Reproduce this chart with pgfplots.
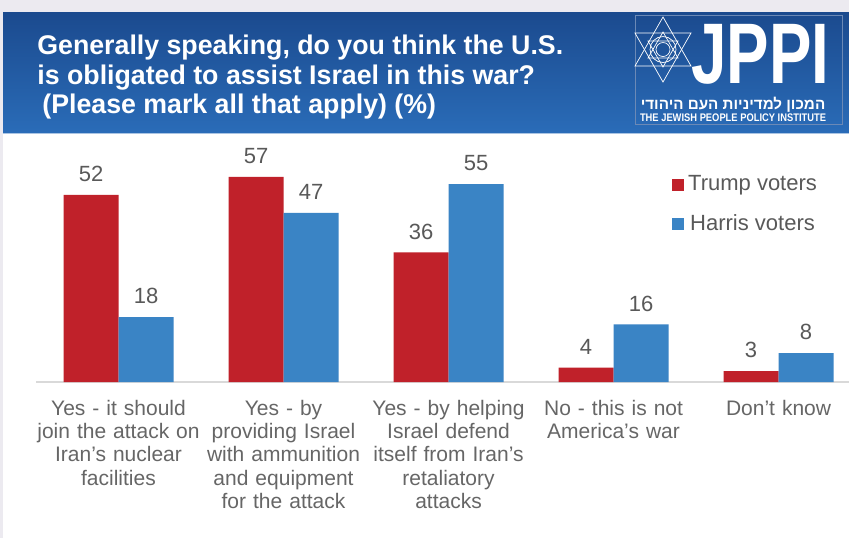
\documentclass[border=0pt]{standalone}
\usepackage{fontspec}
\setmainfont{Liberation Sans}
\newfontfamily\hebfont[Script=Hebrew]{Liberation Sans}
\TeXXeTstate=1
\usepackage{pgfplots}
\pgfplotsset{compat=1.18}
\definecolor{trump}{HTML}{C0212A}
\definecolor{harris}{HTML}{3A84C5}
\definecolor{txt}{HTML}{595959}
\definecolor{ticktxt}{HTML}{666666}
\definecolor{bannerA}{HTML}{1B4A8E}
\definecolor{bannerB}{HTML}{2A6CB8}
\definecolor{edge}{HTML}{ECEAF0}
\definecolor{baseline}{HTML}{D9D9D9}
\begin{document}
\begin{tikzpicture}
\begin{scope}[x=0.5pt,y=-0.5pt]
\fill[white] (0,0) rectangle (849,538);
\fill[edge] (0,0) rectangle (849,12);
\fill[edge] (0,0) rectangle (3,538);
\shade[top color=bannerA, bottom color=bannerB] (3,12) rectangle (849,133);
\draw[white!60!bannerB, line width=0.5pt] (3,133) -- (849,133);
% title
\node[anchor=base west, text=white, font=\fontsize{13.5}{15}\selectfont\bfseries, inner sep=0, xscale=0.99] at (37,54) {Generally speaking, do you think the U.S.};
\node[anchor=base west, text=white, font=\fontsize{13.5}{15}\selectfont\bfseries, inner sep=0, xscale=0.99] at (37,84) {is obligated to assist Israel in this war?};
\node[anchor=base west, text=white, font=\fontsize{13.5}{15}\selectfont\bfseries, inner sep=0, xscale=0.99] at (42,113) {(Please mark all that apply) (\%)};
% logo
\draw[white!35!bannerA, line width=0.4pt] (635,15) rectangle (842,124);
\begin{scope}[white, line width=0.35pt]
\draw (663,17) -- (691,66) -- (635,66) -- cycle;
\draw (663,82) -- (691,33) -- (635,33) -- cycle;
\draw (663,49.5) circle (13);
\draw (663,32) -- (678,58) -- (648,58) -- cycle;
\draw (663,67) -- (678,41) -- (648,41) -- cycle;
\draw (663,49.5) circle (7);
\end{scope}
\node[anchor=base west, text=white, font=\fontsize{43}{45}\selectfont\bfseries, inner sep=0, xscale=0.74, text depth=0pt] at (691,83) {JPPI};
\node[anchor=center, text=white, font=\hebfont\fontsize{7.6}{8.5}\selectfont\bfseries, inner sep=0, text height=5.2pt, text depth=0.4pt] at (733,105) {\beginR המכון למדיניות העם היהודי\endR};
\node[anchor=center, text=white, font=\fontsize{5.5}{6}\selectfont\bfseries, inner sep=0, xscale=0.85] at (733,118) {THE JEWISH PEOPLE POLICY INSTITUTE};
\end{scope}
\begin{axis}[
  at={(18pt,-191pt)}, anchor=south west,
  scale only axis, width=406.5pt, height=108pt,
  xmin=-0.5, xmax=4.427, ymin=0, ymax=60,
  ybar, bar width=27.5pt,
  axis y line=none,
  axis x line*=bottom,
  x axis line style={draw=baseline, line width=1pt, -},
  xtick={0,1,2,3,4},
  xticklabels={{Yes - it should\\join the attack on\\Iran’s nuclear\\facilities},
    {Yes - by\\providing Israel\\with ammunition\\and equipment\\for the attack},
    {Yes - by helping\\Israel defend\\itself from Iran’s\\retaliatory\\attacks},
    {No - this is not\\America’s war},
    {Don’t know}},
  major tick length=0pt,
  xticklabel style={font=\fontsize{10.5}{11.65}\selectfont, text=ticktxt, align=center, text width=84pt, yshift=-5.5pt},
  /pgf/number format/assume math mode=true,
  nodes near coords,
  nodes near coords style={font=\fontsize{11}{13}\selectfont, text=txt, yshift=3pt},
  legend style={at={(rel axis cs:0.782,0.975)}, anchor=north west, draw=none, fill=none,
    font=\fontsize{11}{13}\selectfont, text=txt, row sep=6.5pt, inner sep=0pt},
  legend image code/.code={\fill[#1] (-1.5pt,-3pt) rectangle (4.5pt,3pt);},
  clip=false,
]
\addplot[fill=trump, draw=none, bar shift=-13.75pt] coordinates {(0,52) (1,57) (2,36) (3,4) (4,3)};
\addplot[fill=harris, draw=none, bar shift=13.75pt] coordinates {(0,18) (1,47) (2,55) (3,16) (4,8)};
\legend{Trump voters, Harris voters}
\end{axis}
\pgfresetboundingbox
\path[use as bounding box] (0,0) rectangle (424.5pt,-269pt);
\end{tikzpicture}
\end{document}
